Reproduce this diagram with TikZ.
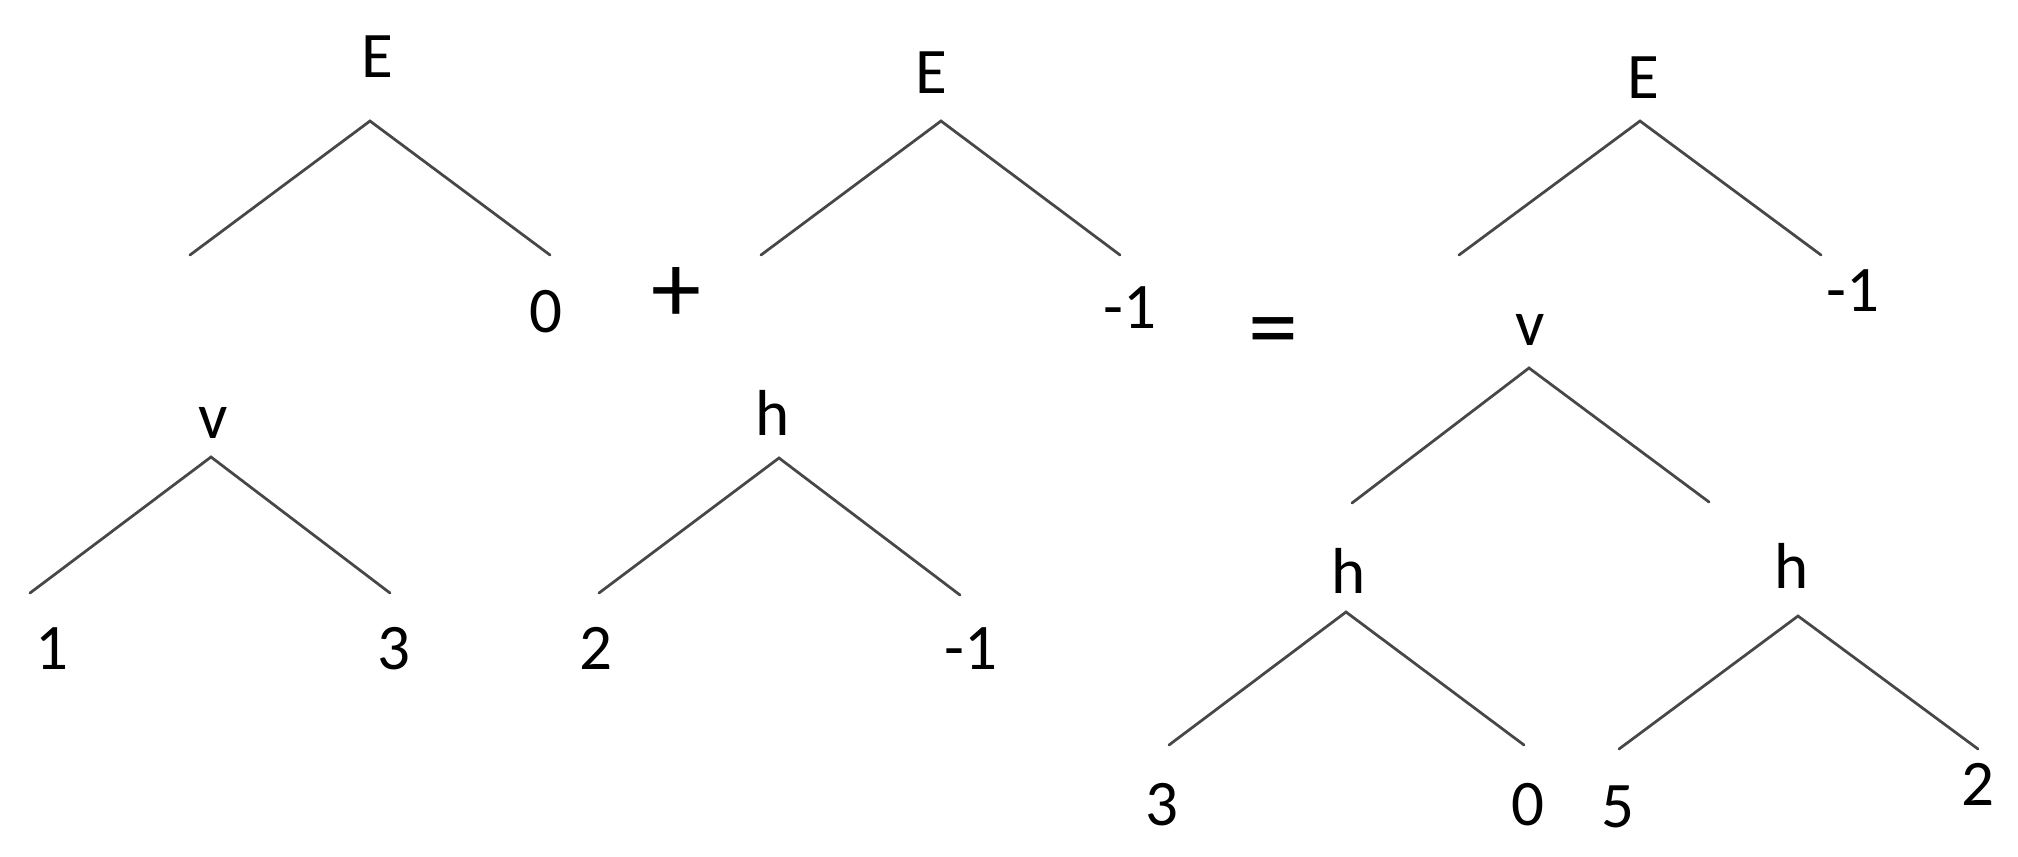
\documentclass[tikz,border=0pt]{standalone}
\usepackage{fontspec}
\setmainfont{Carlito}
\begin{document}
\begin{tikzpicture}[x=0.4pt,y=-0.4pt,
  lbl/.style={inner sep=0pt,outer sep=0pt,anchor=base,font=\fontsize{26}{30}\selectfont,text=black},
  op/.style={inner sep=0pt,outer sep=0pt,anchor=center,font=\fontsize{40}{44}\selectfont,text=black},
  edge/.style={draw=black!72,line width=1.1pt,line cap=round,line join=miter}]
\useasboundingbox[fill=white] (0,0) rectangle (2018,856);
% labels
\node[lbl] (E1) at (377,77) {E};
\node[lbl] (z1) at (546,332) {0};
\node[op] (plus) at (676,295) {+};
\node[lbl] (E2) at (931,93) {E};
\node[lbl] (m1) at (1130,328) {-1};
\node[op] (eq) at (1273,339) {=};
\node[lbl] (E3) at (1643,98) {E};
\node[lbl] (m2) at (1853,311) {-1};
\node[lbl] (v1) at (213,438) {v};
\node[lbl] (one) at (52,669) {1};
\node[lbl] (three1) at (394,669) {3};
\node[lbl] (h1) at (773,435) {h};
\node[lbl] (two1) at (596,669) {2};
\node[lbl] (m3) at (971,669) {-1};
\node[lbl] (v2) at (1530,345) {v};
\node[lbl] (h2) at (1349,593) {h};
\node[lbl] (h3) at (1792,588) {h};
\node[lbl] (three2) at (1162,825) {3};
\node[lbl] (z2) at (1528,825) {0};
\node[lbl] (five) at (1618,827) {5};
\node[lbl] (two2) at (1978,805) {2};
% tree coordinates
\coordinate (a1) at (370,121); \coordinate (l1) at (190,255); \coordinate (r1) at (550,255);
\coordinate (a2) at (941,121); \coordinate (l2) at (761,255); \coordinate (r2) at (1120,255);
\coordinate (a3) at (1640,121); \coordinate (l3) at (1459,255); \coordinate (r3) at (1821,255);
\coordinate (a4) at (211,457); \coordinate (l4) at (30,593); \coordinate (r4) at (390,593);
\coordinate (a5) at (779,458); \coordinate (l5) at (599,593); \coordinate (r5) at (960,595);
\coordinate (a6) at (1529,368); \coordinate (l6) at (1352,503); \coordinate (r6) at (1709,502);
\coordinate (a7) at (1346,612); \coordinate (l7) at (1169,745); \coordinate (r7) at (1524,745);
\coordinate (a8) at (1798,616); \coordinate (l8) at (1619,749); \coordinate (r8) at (1978,749);
\foreach \i in {1,...,8}{
  \draw[edge] (l\i) -- (a\i) -- (r\i);
}
\end{tikzpicture}
\end{document}
